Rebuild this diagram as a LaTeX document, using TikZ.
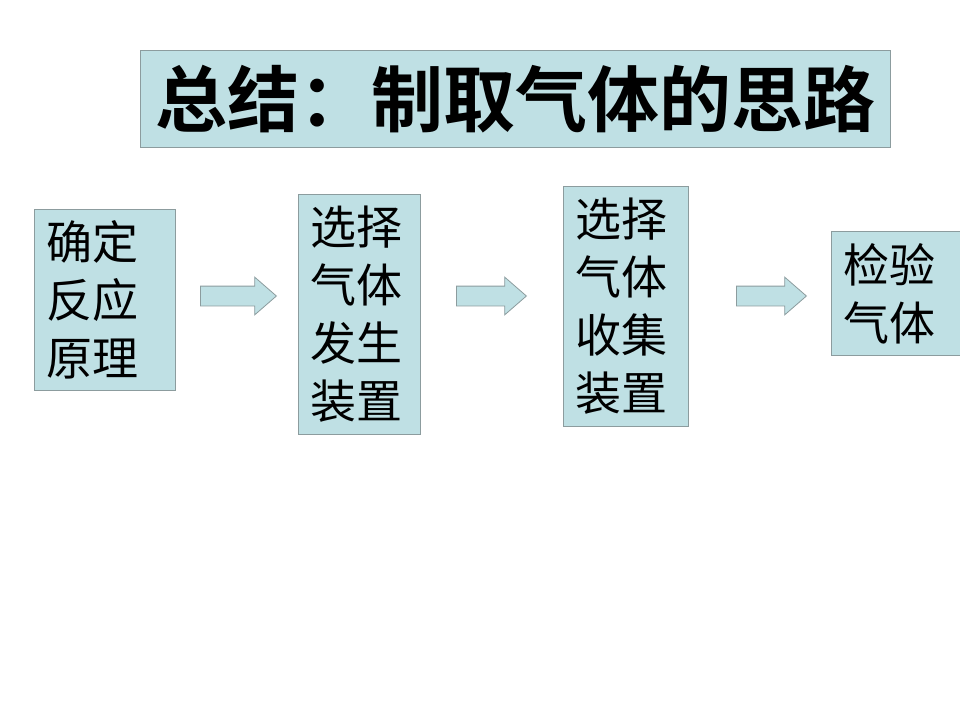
\documentclass[tikz,border=0pt]{standalone}
\usepackage{fontspec}
\newfontfamily\cjk{Noto Sans CJK SC}
\newfontfamily\cjkb{Noto Sans CJK SC Bold}
\usetikzlibrary{shapes.arrows}
\definecolor{boxfill}{HTML}{BFE0E4}
\definecolor{boxline}{HTML}{8C9C9E}
\tikzset{
  x=1pt, y=-1pt,
  stepbox/.style={draw=boxline, fill=boxfill, line width=0.8pt, anchor=north west,
    inner xsep=12pt, inner ysep=0pt, align=left, font=\cjk\fontsize{46}{58}\selectfont},
  blockarrow/.style={single arrow, draw=boxline, fill=boxfill, line width=0.8pt,
    minimum height=76pt, minimum width=37pt, single arrow head extend=9pt,
    single arrow tip angle=82, inner xsep=0pt, inner ysep=9.5pt, anchor=tail},
}
\begin{document}
\begin{tikzpicture}
\useasboundingbox (0,0) rectangle (960,720);
\node[draw=boxline, fill=boxfill, line width=0.8pt, anchor=north west,
  minimum width=750pt, minimum height=97pt, inner sep=0pt,
  font=\cjkb\fontsize{72}{72}\selectfont] (title) at (140,50) {总结：制取气体的思路};
\node[stepbox, text width=117pt, minimum height=181pt] (b1) at (34,209) {确定\\反应\\原理};
\node[stepbox, text width=98pt, minimum height=240pt] (b2) at (298,194) {选择\\气体\\发生\\装置};
\node[stepbox, text width=101pt, minimum height=240pt] (b3) at (563,186) {选择\\气体\\收集\\装置};
\node[stepbox, text width=110pt, minimum height=124pt] (b4) at (831,231) {检验\\气体};
\node[blockarrow] (a1) at (200,296) {};
\node[blockarrow, minimum height=70pt] (a2) at (456,296) {};
\node[blockarrow, minimum height=70pt] (a3) at (736,296) {};
\end{tikzpicture}
\end{document}
